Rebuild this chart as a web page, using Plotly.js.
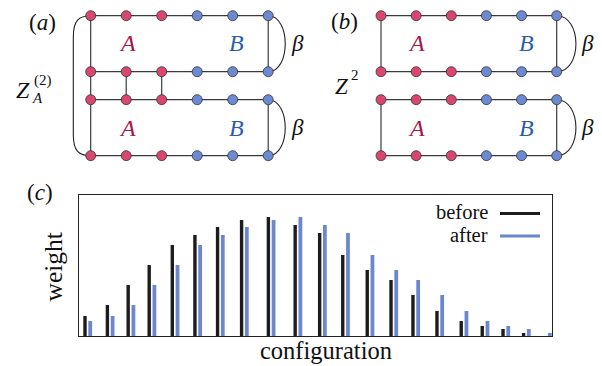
<!DOCTYPE html>
<html>
<head>
<meta charset="utf-8">
<script src="https://cdn.plot.ly/plotly-3.0.1.min.js"></script>
<style>html,body{margin:0;padding:0;background:#fff;}#chart{width:602px;height:366px;}</style>
</head>
<body>
<div id="chart"></div>
<script>
// ---------- data ----------
var configuration = [0, 0.97, 1.87, 2.78, 3.78, 4.76, 5.74, 6.78, 7.94, 9.10, 10.16, 11.16, 12.22, 13.25, 14.2, 15.24, 16.29, 17.2, 18.1, 18.99, 19.9];
var weightBefore = [0.20, 0.31, 0.51, 0.71, 0.91, 1.01, 1.09, 1.16, 1.19, 1.11, 1.03, 0.81, 0.66, 0.56, 0.41, 0.25, 0.15, 0.10, 0.07, 0.03, 0];
var weightAfter  = [0.15, 0.20, 0.31, 0.51, 0.71, 0.91, 1.01, 1.09, 1.16, 1.19, 1.11, 1.03, 0.81, 0.66, 0.56, 0.41, 0.25, 0.15, 0.10, 0.07, 0.03];
var seriesNames = ['before', 'after'];

// lattice of the diagrams
var latticeCols = [0, 1, 2, 3, 4, 5];
var colRegion = ['A', 'A', 'A', 'B', 'B', 'B'];
var latticeRows = [0, 1, 1.5, 2.5];
// vertical links: [column, rowIndexFrom, rowIndexTo]
var linksA = [[0, 0, 1], [0, 1, 2], [0, 2, 3], [5, 0, 1], [5, 2, 3], [1, 1, 2], [2, 1, 2]];
var linksB = [[0, 0, 1], [0, 2, 3], [5, 0, 1], [5, 2, 3]];

// ---------- styling / geometry ----------
var W = 602, H = 366;
var SERIF = 'Liberation Serif';
var PINK = '#d9466f', BLUEN = '#6c89d2', EDGE = '#3a3a3a';
var TXT_A = '#a8164d', TXT_B = '#2a5caa';
var BAR_BLACK = '#1c1c1c', BAR_BLUE = '#6b88cf';

function axX(p0, p1, origin, unit) {
  return {domain: [p0 / W, p1 / W], range: [(p0 - origin) / unit, (p1 - origin) / unit],
          visible: false, fixedrange: true};
}
function axY(top, bottom, origin, unit) {
  return {domain: [(H - bottom) / H, (H - top) / H], range: [(bottom - origin) / unit, (top - origin) / unit],
          visible: false, fixedrange: true};
}
function toPaper(x, y) { return {x: x / W, y: 1 - y / H}; }

var traces = [];

// bars
traces.push({type: 'bar', name: seriesNames[0], x: configuration, y: weightBefore,
  offset: -0.074, width: 0.147, marker: {color: BAR_BLACK, line: {width: 0}},
  xaxis: 'x', yaxis: 'y', showlegend: false, hoverinfo: 'skip'});
traces.push({type: 'bar', name: seriesNames[1], x: configuration, y: weightAfter,
  offset: 0.143, width: 0.165, marker: {color: BAR_BLUE, line: {width: 0}},
  xaxis: 'x', yaxis: 'y', showlegend: false, hoverinfo: 'skip'});

function addDiagram(links, xa, ya) {
  var lx = [], ly = [];
  latticeRows.forEach(function (r) {
    lx.push(latticeCols[0], latticeCols[latticeCols.length - 1], null);
    ly.push(r, r, null);
  });
  links.forEach(function (l) {
    lx.push(latticeCols[l[0]], latticeCols[l[0]], null);
    ly.push(latticeRows[l[1]], latticeRows[l[2]], null);
  });
  traces.push({type: 'scatter', mode: 'lines', x: lx, y: ly, xaxis: xa, yaxis: ya,
    line: {color: EDGE, width: 1.2}, showlegend: false, hoverinfo: 'skip', cliponaxis: false});
  var nx = [], ny = [], nc = [];
  latticeRows.forEach(function (r) {
    latticeCols.forEach(function (c, i) {
      nx.push(c); ny.push(r); nc.push(colRegion[i] === 'A' ? PINK : BLUEN);
    });
  });
  traces.push({type: 'scatter', mode: 'markers', x: nx, y: ny, xaxis: xa, yaxis: ya,
    marker: {size: 10, color: nc, line: {color: '#333', width: 0.8}},
    showlegend: false, hoverinfo: 'skip', cliponaxis: false});
}
addDiagram(linksA, 'x2', 'y2');
addDiagram(linksB, 'x3', 'y3');

var shapes = [];
function arc(xr, yr, r0, r1, c) {
  var x = latticeCols[latticeCols.length - 1];
  shapes.push({type: 'path', xref: xr, yref: yr, layer: 'below',
    path: 'M ' + x + ',' + r0 + ' C ' + (x + c) + ',' + r0 + ' ' + (x + c) + ',' + r1 + ' ' + x + ',' + r1,
    line: {color: '#222', width: 1.1}});
}
arc('x2', 'y2', 0, 1, 0.64); arc('x2', 'y2', 1.5, 2.5, 0.64);
arc('x3', 'y3', 0, 1, 0.73); arc('x3', 'y3', 1.5, 2.5, 0.73);
shapes.push({type: 'path', xref: 'x2', yref: 'y2', layer: 'below',
  path: 'M 0,0 C -0.33,0 -0.49,0.08 -0.49,0.38 L -0.49,2.12 C -0.49,2.42 -0.33,2.5 0,2.5',
  line: {color: '#222', width: 1.1}});

// legend lines
var lb = toPaper(500, 213.5), le = toPaper(540, 213.5);
shapes.push({type: 'line', xref: 'paper', yref: 'paper', x0: lb.x, x1: le.x, y0: lb.y, y1: lb.y,
  line: {color: BAR_BLACK, width: 3}});
var ab = toPaper(500, 236), ae = toPaper(540, 236);
shapes.push({type: 'line', xref: 'paper', yref: 'paper', x0: ab.x, x1: ae.x, y0: ab.y, y1: ab.y,
  line: {color: BAR_BLUE, width: 3}});

var annotations = [];
function label(text, x, y, size, color, anchor, angle, yanchor) {
  var p = toPaper(x, y);
  annotations.push({text: text, x: p.x, y: p.y, xref: 'paper', yref: 'paper', showarrow: false,
    xanchor: anchor || 'center', yanchor: yanchor || 'middle', textangle: angle || 0,
    font: {family: SERIF, size: size, color: color || '#111'}});
}
label('(<i>a</i>)', 42.5, 23, 23);
label('(<i>b</i>)', 344, 22, 23);
label('(<i>c</i>)', 40, 192, 23);
label('<i>A</i>', 127, 43.5, 24, TXT_A); label('<i>A</i>', 127, 127.5, 24, TXT_A);
label('<i>B</i>', 236, 43.5, 24, TXT_B); label('<i>B</i>', 236, 127.5, 24, TXT_B);
label('<i>A</i>', 416, 43.5, 24, TXT_A); label('<i>A</i>', 416, 127.5, 24, TXT_A);
label('<i>B</i>', 526, 43.5, 24, TXT_B); label('<i>B</i>', 526, 127.5, 24, TXT_B);
label('<i>β</i>', 297.5, 43.5, 23); label('<i>β</i>', 297.5, 127.5, 23);
label('<i>β</i>', 587.5, 43.5, 23); label('<i>β</i>', 587.5, 127.5, 23);
label('<i>Z</i>', 22.5, 89.5, 24);
label('(2)', 42.5, 80.5, 15);
label('<i>A</i>', 37.5, 98, 15);
label('<i>Z</i>', 341, 87, 23);
label('2', 355, 74.5, 15);
label('weight', 53, 266.5, 25.5, '#111', 'center', -90);
label('configuration', 326, 366, 24.5, '#111', 'center', 0, 'bottom');
label(seriesNames[0], 490, 212, 20.5, '#111', 'right');
label(seriesNames[1], 490, 234.5, 20.5, '#111', 'right');

var layout = {
  width: W, height: H, margin: {l: 0, r: 0, t: 0, b: 0},
  paper_bgcolor: '#fff', plot_bgcolor: 'rgba(0,0,0,0)',
  barmode: 'overlay', showlegend: false,
  xaxis: {domain: [79 / W, 552 / W], range: [-0.26, 20.22], showline: true, mirror: true,
    linecolor: '#222', linewidth: 1.2, showticklabels: false, ticks: '', showgrid: false, zeroline: false, fixedrange: true},
  yaxis: {domain: [(H - 336) / H, (H - 195) / H], range: [0, 1.41], showline: true, mirror: true,
    linecolor: '#222', linewidth: 1.2, showticklabels: false, ticks: '', showgrid: false, zeroline: false, fixedrange: true},
  xaxis2: Object.assign(axX(60, 300, 90.7, 35.5), {anchor: 'y2'}),
  yaxis2: Object.assign(axY(0, 175, 15.7, 56), {anchor: 'x2'}),
  xaxis3: Object.assign(axX(360, 602, 381, 35.14), {anchor: 'y3'}),
  yaxis3: Object.assign(axY(0, 175, 15.7, 56), {anchor: 'x3'}),
  shapes: shapes, annotations: annotations
};
Plotly.newPlot('chart', traces, layout, {displayModeBar: false});
</script>
</body>
</html>
